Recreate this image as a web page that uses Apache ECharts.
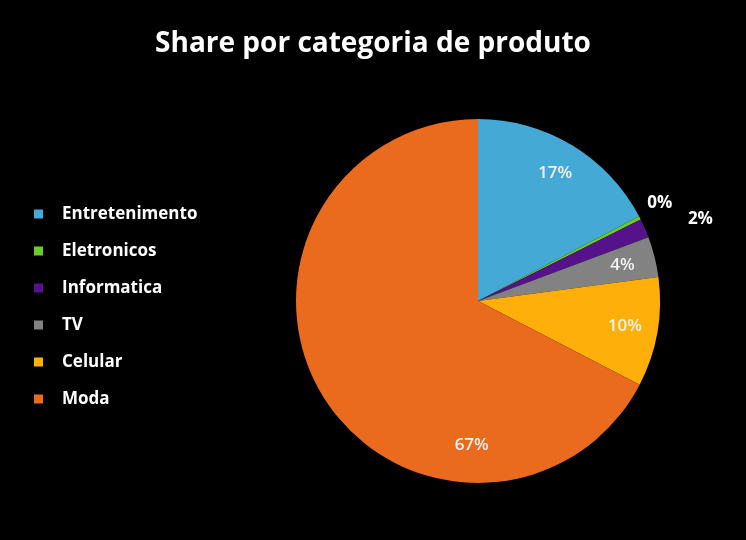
<!DOCTYPE html>
<html><head><meta charset="utf-8">
<script src="https://cdn.jsdelivr.net/npm/echarts@6/dist/echarts.min.js"></script>
<style>html,body{margin:0;padding:0;background:#000;}#c{width:746px;height:540px;}</style>
</head><body><div id="c"></div>
<script>
const categories = ['Entretenimento','Eletronicos','Informatica','TV','Celular','Moda'];
const values = [17.3, 0.3, 1.7, 3.6, 9.7, 67.4];
const colors = ['#44A9D5','#6BCB2C','#55128A','#828282','#FEAF0A','#EA6B1E'];
const outsideLabels = ['Eletronicos','Informatica'];
const outsideTweaks = {Eletronicos:{length:32,length2:0,dist:-21}, Informatica:{length:23,length2:0,dist:22}};
const insideOffsets = {Moda:[121,67]};

const total = values.reduce((a,b)=>a+b,0);
const fmt = p => Math.round(p.value/total*100) + '%';
const font = '"Open Sans"';

const mainData = categories.map((c,i)=>{
  const d = {name:c, value:values[i], itemStyle:{color:colors[i]}};
  if (outsideLabels.includes(c)) {
    const t = outsideTweaks[c];
    d.label = {show:true, position:'outside', distanceToLabelLine:t.dist};
    d.labelLine = {show:false, length:t.length, length2:t.length2};
  } else {
    d.label = {show:false};
  }
  return d;
});
const overlayData = categories.map((c,i)=>{
  const d = {name:c, value:values[i], label:{show: !outsideLabels.includes(c)}};
  if (insideOffsets[c]) d.label.offset = insideOffsets[c];
  return d;
});

const chart = echarts.init(document.getElementById('c'), null, {renderer:'canvas'});
chart.setOption({
  backgroundColor:'#000',
  animation:false,
  title:{text:'Share por categoria de produto', left:'center', top:25,
    textStyle:{color:'#fff', fontSize:28, fontWeight:'bold', fontFamily:font}},
  legend:{orient:'vertical', left:29, top:199, itemWidth:9, itemHeight:9, itemGap:17,
    icon:'rect',
    data: categories.map((c,i)=>({name:c, itemStyle:{color:colors[i]}})),
    textStyle:{color:'#fff', fontSize:17, fontWeight:'bold', fontFamily:font, padding:[0,0,0,14], lineHeight:20},
    selectedMode:false},
  series:[
    {type:'pie', center:[478,301], radius:182, startAngle:90, clockwise:true,
     avoidLabelOverlap:false, silent:true, emphasis:{disabled:true},
     label:{color:'#fff', fontSize:17, fontWeight:'bold', fontFamily:font, formatter:fmt},
     data: mainData},
    {type:'pie', center:[478,301], radius:292, startAngle:90, clockwise:true,
     avoidLabelOverlap:false, silent:true, emphasis:{disabled:true},
     itemStyle:{color:'rgba(0,0,0,0)', borderWidth:0},
     label:{position:'inside', color:'#f2f2f2', fontSize:17, fontWeight:600, fontFamily:font, formatter:fmt},
     labelLine:{show:false},
     data: overlayData}
  ]
});
</script></body></html>
